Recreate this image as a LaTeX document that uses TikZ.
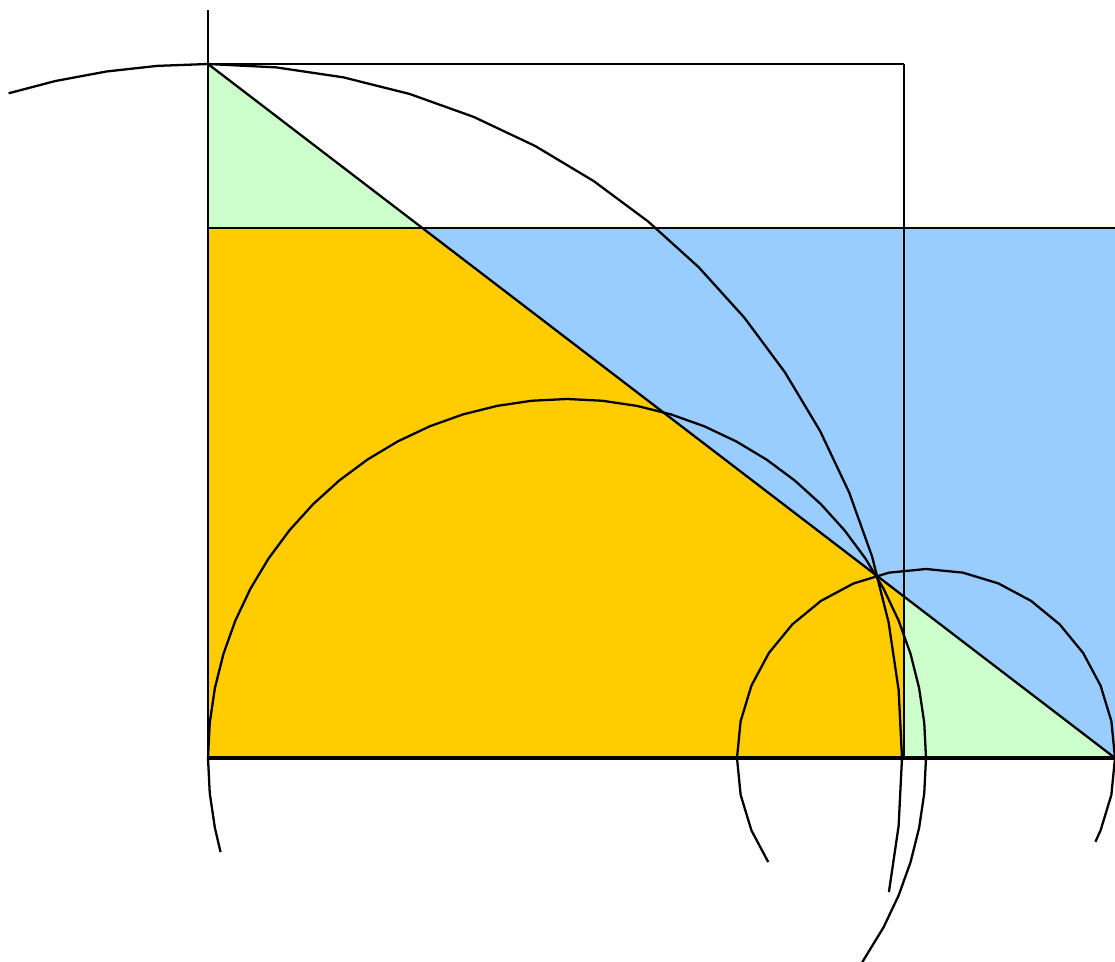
\documentclass[tikz,border=0pt]{standalone}
\definecolor{lgreen}{HTML}{CCFFCC}
\definecolor{lblue}{HTML}{99CCFF}
\definecolor{lorange}{HTML}{FFCC00}
\tikzset{
  geo/.style={draw=black,line width=1.3pt,line join=round},
  heavy/.style={draw=black,line width=2.2pt},
}
\begin{document}
\begin{tikzpicture}[x=0.2mm,y=0.2mm]
\useasboundingbox (0,0) rectangle (1115,962);
% key points (y measured upward)
\coordinate (A) at (208,898);
\coordinate (Top) at (208,952);
\coordinate (SqTR) at (904,898);
\coordinate (SqBR) at (904,204);
\coordinate (O) at (208,204);
\coordinate (RL) at (208,734);
\coordinate (RR) at (1115,734);
\coordinate (BR) at (1115,204);
\coordinate (D1) at (422,734);
\coordinate (D2) at (904,365);
% fills
\fill[lgreen] (A) -- (RL) -- (D1) -- cycle;
\fill[lblue] (D1) -- (RR) -- (BR) -- cycle;
\fill[lorange] (RL) -- (D1) -- (D2) -- (SqBR) -- (O) -- cycle;
\fill[lgreen] (D2) -- (SqBR) -- (BR) -- cycle;
% lines
\draw[geo] (Top) -- (O);
\draw[geo] (A) -- (SqTR);
\draw[geo,line width=1.7pt] (SqTR) -- (SqBR);
\draw[geo] (RL) -- (RR);
\draw[geo] (A) -- (BR);
\draw[heavy] (O) -- (BR);
% arcs (drawn as polygons, like the reference)
\draw[geo] plot[samples at={106.7,102.7,98.4,94.2,90,84.375,78.75,...,-5.625,-11.15}]
  ({208+694*cos(\x)},{204+694*sin(\x)});
\draw[geo] plot[samples at={195.2,191.25,185.625,...,-28.125,-34.7}]
  ({567+359*cos(\x)},{204+359*sin(\x)});
\draw[geo] plot[samples at={213.4,202.5,191.25,...,-22.5,-26.3}]
  ({926+189*cos(\x)},{204+189*sin(\x)});
\end{tikzpicture}
\end{document}
